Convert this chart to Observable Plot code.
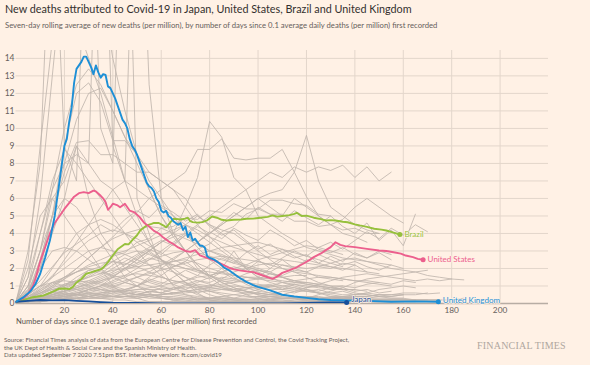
<!DOCTYPE html>
<html><head><meta charset="utf-8">
<script src="https://cdn.jsdelivr.net/npm/d3@7"></script>
<script src="https://cdn.jsdelivr.net/npm/@observablehq/plot@0.6"></script>
<style>
html,body{margin:0;padding:0;background:#fff1e5;}
body{width:590px;height:365px;position:relative;overflow:hidden;font-family:Lato,"Open Sans",sans-serif;}
#title{position:absolute;left:5px;top:4px;font-size:10.8px;line-height:1;color:#33302e;white-space:nowrap;}
#subtitle{position:absolute;left:5px;top:22px;font-size:7.7px;line-height:1;color:#66605c;white-space:nowrap;}
#chart{position:absolute;left:0;top:40px;}
#xtitle{position:absolute;left:16px;top:318px;font-size:7.6px;line-height:1;color:#5a5450;white-space:nowrap;}
#source{position:absolute;left:4px;top:336px;font-size:6.1px;line-height:7.6px;color:#66605c;white-space:nowrap;}
#ft{position:absolute;left:477px;top:341px;font-family:"Liberation Serif","DejaVu Serif",serif;font-size:10px;line-height:1;color:#b0a79f;letter-spacing:0.2px;white-space:nowrap;}
</style></head>
<body>
<div id="title">New deaths attributed to Covid-19 in Japan, United States, Brazil and United Kingdom</div>
<div id="subtitle">Seven-day rolling average of new deaths (per million), by number of days since 0.1 average daily deaths (per million) first recorded</div>
<div id="chart"></div>
<div id="xtitle">Number of days since 0.1 average daily deaths (per million) first recorded</div>
<div id="source">Source: Financial Times analysis of data from the European Centre for Disease Prevention and Control, the Covid Tracking Project,<br>the UK Dept of Health &amp; Social Care and the Spanish Ministry of Health.<br>Data updated September 7 2020 7.51pm BST. Interactive version: ft.com/covid19</div>
<div id="ft">FINANCIAL TIMES</div>
<script>
// ---- axis ticks ----
const xTicks = [20, 40, 60, 80, 100, 120, 140, 160, 180, 200];
const yTicks = [0, 1, 2, 3, 4, 5, 6, 7, 8, 9, 10, 11, 12, 13, 14];

// ---- highlighted countries ----
const highlightNames = ["Brazil", "United States", "United Kingdom", "Japan"];

const ukDays = [0,3,6,8,10,12,14,16,18,20,21,22,23,24,25,26,27,28,29,30,31,32,33,34,35,36,37,38,39,40,41,42,43,44,45,46,47,48,49,50,51,52,53,54,55,56,57,58,59,60,61,62,63,64,65,66,67,68,69,70,71,72,73,74,75,76,77,78,79,80,82,84,86,88,90,92,95,98,100,105,110,115,120,125,130,137,145,155,165,174.5];
const ukValues = [0.1,0.35,0.7,1.1,1.7,2.6,3.6,5.0,7.0,9.0,9.4,10.4,11.2,12.6,13.4,13.6,13.8,14.1,14.1,13.8,13.5,13.1,13.6,13.2,12.9,13.1,13.05,12.4,12.3,12.0,11.7,11.3,10.9,10.5,10.3,10.0,9.4,9.0,8.8,8.5,8.1,7.7,7.3,6.9,6.7,6.6,6.4,6.0,5.8,5.3,5.2,5.3,5.0,4.9,4.7,4.6,4.5,4.6,4.2,4.4,3.8,4.05,3.6,3.7,3.5,3.3,3.3,3.2,2.7,2.6,2.5,2.3,2.05,1.9,1.7,1.5,1.25,1.05,0.95,0.75,0.5,0.4,0.32,0.24,0.2,0.17,0.15,0.1,0.12,0.1];

const usDays = [0,3,5,7,8,10,12,14,16,18,20,22,24,26,28,30,32,33,35,36,37,38,39,40,42,43,45,46,47,49,51,53,55,57,59,61,63,65,67,68.5,70,72,74,76,78,80,82,85,88,90,93,96,98,100,102,104,106,108,110,113,116,119,121,123,126,128,130,132,134,136,140,145,150,153,156,159,161,164,166,168.2];
const usValues = [0.1,0.3,0.55,1.0,1.4,2.4,3.2,4.0,4.6,5.0,5.4,5.75,6.1,6.3,6.36,6.3,6.45,6.4,6.15,6.0,5.8,5.35,5.5,5.7,5.6,5.5,5.7,5.5,5.3,5.2,4.95,4.6,4.4,4.15,4.0,3.75,3.55,3.4,3.2,3.1,3.0,2.95,3.05,2.75,2.65,2.55,2.45,2.25,2.05,1.95,1.88,1.82,1.79,1.7,1.6,1.5,1.41,1.55,1.75,1.9,2.07,2.3,2.46,2.65,2.86,3.05,3.22,3.5,3.35,3.28,3.22,3.12,3.03,3.0,2.93,2.85,2.74,2.65,2.55,2.5];

const brazilDays = [0,3,5,7,9,11.5,14,16,17.6,20,22,23.5,25,27,29,31,33,35,36,38,40,42,44,45,46.5,48.6,50,51.3,53,54,56,57,59,61,62,63,65,67,68,70,71,72,73,75,77,79,81,83,85,87,90,93,95,98,101,104,106,108,110,113,115,116,118,120,123,126,128,130,132,135,137,140,142,145,148,151,153,156,158.6];
const brazilValues = [0.1,0.2,0.28,0.36,0.4,0.46,0.6,0.72,0.84,0.86,0.82,0.95,1.2,1.4,1.7,1.78,1.87,1.95,2.05,2.36,2.74,3.1,3.3,3.4,3.38,3.7,3.9,4.17,4.35,4.46,4.55,4.6,4.6,4.45,4.35,4.5,4.84,4.82,4.8,4.85,4.9,4.7,4.65,4.62,4.65,4.75,4.97,4.9,4.78,4.74,4.78,4.8,4.84,4.85,4.9,4.95,5.03,4.96,5.0,5.05,5.12,5.18,5.0,5.02,4.9,4.82,4.74,4.76,4.74,4.67,4.64,4.52,4.46,4.38,4.27,4.22,4.17,4.05,3.94];

const japanDays = [0,5,10,15,20,25,30,35,40,50,60,70,80,90,100,110,120,125,130,136.6];
const japanValues = [0.1,0.15,0.2,0.18,0.19,0.15,0.12,0.08,0.05,0.03,0.01,0.01,0.0,0.0,0.01,0.01,0.03,0.05,0.06,0.06];

// ---- other countries (grey), values every 5 days from day 0 ----
const gridDays = [0,5,10,15,20,25,30,35,40,45,50,55,60,65,70,75,80,85,90,95,100,105,110,115,120,125,130,135,140,145,150,155,160,165,170,175,180,185,190];
const g01 = [0.1,1.5,6,13,20,24,22,18,14,11,8.5,6.5,5,3.8,3,2.2,1.6,1.2,0.9,0.7,0.5,0.4,0.3,0.3,0.2,0.2,0.3,0.4,0.5,0.6,0.8,0.9,1.0,0.9];
const g02 = [0.1,2.5,9,15,17,16,14,12,9.5,7,5,3.5,2.5,1.8,1.2,0.6,0.2,0.1,0.1,0.1,0.1,0.1,0.1,0.2,0.3,0.5,0.7,0.9,1.2,1.4,1.5,1.6,1.7,1.8,1.9];
const g03 = [0.1,0.8,3,6.5,10,12.5,13.4,12.5,11,9.5,8.5,7.5,7,6.5,5.5,4.5,3.8,3.2,2.7,2,1.5,1.2,1,0.9,0.8,0.6,0.4,0.3,0.3,0.2,0.2,0.2,0.2,0.2,0.2,0.2,0.2,0.3];
const g04 = [0.1,0.5,2.5,5,9,12,12.6,11.5,9.3,9.3,8.5,7,6,5,4,3.2,2.5,2,1.5,1.1,0.8,0.6,0.5,0.4,0.4,0.3,0.3,0.3,0.3,0.3,0.4,0.4,0.5,0.5,0.6];
const g05 = [0.1,0.7,2,5,7.5,9.2,9.3,8.5,8.5,8,7.5,7.5,7,6.5,6,5,4.5,4.2,4,3.5,3,2.5,2,1.8,1.5,1.2,1,0.8,0.6,0.5,0.4,0.3,0.3,0.2,0.2,0.2];
const g06 = [0.1,1,4,7,8.8,8,7,6,5,4,3,2.2,1.6,1.1,0.8,0.5,0.3,0.2,0.1,0.1,0.1,0.1,0.1,0.1,0.1,0.1,0.1,0.2,0.2,0.2,0.2,0.2,0.2,0.2,0.2];
const g07 = [0.1,1.5,4,6.5,8,8.5,8,7,6.5,5.5,4.5,3.5,2.5,1.8,1.2,0.8,0.5,0.3,0.2,0.1,0.1,0.1,0.1,0.1,0.1,0.1,0.1,0.1,0.1,0.1,0.1,0.1,0.1];
const g08 = [0.1,3,8,25,9,7,28,10,8,30,6,4,2,1,0.5,0.3,0.2,0.1,0.1,0.1,0.1,0.1,0.1,0.1,0.1];
const g09 = [0.1,0.5,2,4,6,9,8,30,9,7,30,12.5,6,4,3,2,1.5,1,0.8,0.5,0.3,0.2,0.2,0.1,0.1,0.1,0.1];
const g10 = [0.1,1,3,5,6,5.5,4.5,3.5,2.5,1.5,1,0.6,0.3,0.2,0.1,0.1,0.1,0.1,0.1,0.1,0.1,0.1,0.1,0.1,0.1,0.1,0.1,0.1,0.1,0.1,0.1,0.1,0.1,0.1,0.1,0.1];
const g11 = [0.1,0.3,0.6,1,1.5,2,2.6,3.2,3.8,4.5,5.2,6,6.5,7,7.5,8.8,8.8,9.4,8.3,8.2,8.3,8.3,8.8,7.5,6.1,5,4.5,4.8,5.5,6,5.5,5,4.6];
const g12 = [0.1,0.2,0.3,0.5,0.7,0.9,1.2,1.5,1.8,2.2,2.6,3,3.5,4,5.5,7.2,10.4,9.5,7.2,6.5,5,4.5,4,3.6,3.2,3,2.8,2.6,2.5,2.4,2.3,2.2];
const g13 = [0.1,0.2,0.3,0.3,0.4,0.5,0.6,0.8,1,1.2,1.5,1.8,2.2,2.6,3,3.5,4,4.5,5,5.5,6,6.3,6.5,7.5,9.6,7,5.5,5,4.5,4.2,4];
const g14 = [0.1,0.2,0.3,0.4,0.5,0.6,0.8,1,1.3,1.6,2,2.5,3,3.5,4,4.5,5,5.5,6,6.5,7,7.5,7.2,7.8,7.5,7.8,7.6,7.9,7.2,7.8,7.0,7.5];
const g15 = [0.1,0.2,0.4,0.7,1.1,1.3,1.9,2.1,2.7,2.9,3.5,3.7,4.3,4.4,4.9,4.8,5.3,5.2,5.7,5.4,5.4,5.1,5.1,4.7,4.7,4.4,4.5,4.2,4.3,4.0,4];
const g16 = [0.1,0.1,0.2,0.2,0.3,0.3,0.4,0.5,0.6,0.8,1,1.3,1.6,2.1,2.4,3.1,3.4,4.1,4.4,5.1,5.4,5.9,5.9,5.7,5.6,5.1,5];
const g17 = [0.1,0.6,1,1.2,1.3,1.2,1,0.8,0.7,0.8,1,1.5,2,2.5,3,3.5,4,4.5,5,5.5,6,5.5,5,6,5.5,5,4.5,4,3.8,3.5];
const g18 = [0.1,0.1,0.1,0.2,0.3,0.5,0.8,1,1.5,2,2.5,3,3.5,4,4.5,5,4.5,4,3.5,3,2.5,2];
const g19 = [0.1,0.3,0.8,1.5,2.5,3.5,4.5,5.5,6.5,7,6.5,6,5.5,5,4.5,4,3.5,3,2.5,2,1.8,1.5,1.2,1,0.8,0.6,0.5,0.4,0.3,0.3];
const g20 = [0.1,0.5,1,2,3,4,4.5,4.8,4.5,4,3.5,3,2.5,2,1.5,1,0.7,0.5,0.3,0.2,0.2,0.2,0.1,0.1,0.1,0.1,0.1,0.1,0.1,0.1,0.1,0.1,0.1,0.1];
const g21 = [0.1,0.8,2,3,3.2,3,2.5,2,1.5,1.2,1,0.8,0.6,0.5,0.4,0.3,0.3,0.3,0.3,0.3,0.4,0.4,0.4,0.3,0.3,0.2,0.2,0.2,0.2,0.2,0.2,0.2,0.2,0.2];
const g22 = [0.1,2,5,6,5,4,3,2,1,0.5,0.3,0.1,0.1,0.1,0.1,0.1,0.1,0.1,0.1,0.1,0.1,0.2,0.3,0.3,0.2,0.2,0.2,0.2,0.2,0.2,0.2,0.2,0.2,0.2,0.2,0.2];
const g23 = [0.1,0.2,0.3,0.4,0.5,0.7,0.9,1.2,1.5,2,2.5,3,3.5,3.8,4,3.5,3,2.8,2.5,2.2,2,1.8,1.5,1.2,1.1,1,0.9,0.8,0.8];
const g24 = [0.1,0.3,0.6,0.8,0.9,0.8,0.6,0.5,0.4,0.3,0.3,0.4,0.5,0.6,0.7,0.8,0.9,1.4,1.8,2,2.2,2.3,2.2,2.1,2,2.1,2.3,2.5,2.6,2.4,2.2,2,1.9,1.8,1.6,1.5,1.4];
const g25 = [0.1,0.2,0.3,0.5,0.7,0.9,1.1,1.3,1.5,1.6,1.7,1.6,1.5,1.3,1.2,1,0.9,0.8,0.7,0.6,0.6,0.5,0.5,0.4,0.4,0.4,0.3,0.3,0.3,0.3,0.3,0.3,0.3];
const g26 = [0.1,0.3,0.5,0.8,1,1.2,1.3,1.2,1,0.8,0.6,0.5,0.4,0.3,0.3,0.2,0.2,0.2,0.2,0.2,0.3,0.4,0.5,0.7,0.9,1.1,1.3,1.5,1.6,1.7,1.6,1.5,1.4,1.3,1.4,1.3,1.4,1.35];
const g27 = [0.1,0.2,0.2,0.3,0.4,0.6,0.8,1,1.2,1.5,1.8,2,2.2,2.4,2.5,2.3,2,1.8,1.6,1.5,1.4,1.3,1.2,1.1,1,0.9,0.8,0.8];
const g28 = [0.1,0.1,0.2,0.2,0.3,0.3,0.4,0.5,0.4,0.6,0.5,0.7,0.6,0.9,0.8,1.1,1,1.3,1.2,1.5,1.4,1.7,1.6,1.9,1.8,2.1,2,2.3,2.2];
const g29 = [0.1,0.4,0.8,1.2,1.5,1.8,2,1.8,1.6,1.4,1.2,1,0.8,0.6,0.5,0.4,0.3,0.3,0.2,0.2,0.2,0.2,0.2,0.2,0.2,0.3,0.3,0.3,0.4,0.4,0.5,0.5,0.6,0.6,0.55,0.6];
const g30 = [0.1,0.2,0.4,0.6,0.9,1.2,1.6,2,2.4,2.8,3,2.8,2.5,2.2,2,1.8,1.6,1.4,1.3,1.2,1.1,1,0.9,0.8,0.7,0.6,0.6,0.5,0.5,0.5,0.4];
const g31 = [0.1,0.1,0.1,0.2,0.2,0.2,0.3,0.3,0.3,0.4,0.4,0.5,0.5,0.6,0.7,0.8,0.9,1,1,0.9,0.9,0.8,0.8,0.7,0.7,0.6];
const g32 = [0.1,0.3,0.6,0.9,1.1,1.3,1.2,1.1,0.9,0.7,0.5,0.4,0.3,0.2,0.2,0.1,0.1,0.1,0.1,0.1,0.1,0.1,0.1,0.1,0.1,0.1,0.1,0.1,0.1,0.1,0.1];
const g33 = [0.1,0.2,0.3,0.4,0.6,0.8,1,1.3,1.6,1.9,2.2,2.5,2.7,2.9,3,2.9,2.7,2.5,2.3,2.1,1.9,1.7,1.5,1.3,1.2,1.1,1,1];
const g34 = [0.1,0.1,0.2,0.3,0.4,0.5,0.6,0.6,0.7,0.7,0.8,0.8,0.8,0.9,0.9,0.9,1,1.1,1.2,1.3,1.4,1.5,1.5,1.6,1.6];
const g35 = [0.1,0.2,0.4,0.5,0.6,0.5,0.4,0.3,0.2,0.2,0.1,0.1,0.1,0.1,0.1,0.1,0.1,0.1,0.1,0.1,0.1,0.1,0.1,0.1,0.2,0.2,0.3,0.3,0.4,0.4,0.5,0.5,0.5];
const g36 = [0.1,0.5,1,1.5,2,2.5,3,3.2,3,2.8,2.5,2.2,2,1.8,1.5,1.3,1.1,0.9,0.8,0.7,0.6,0.5,0.5,0.4,0.4,0.3,0.3,0.3,0.3,0.3];
const g37 = [0.1,0.1,0.2,0.2,0.3,0.3,0.3,0.4,0.4,0.4,0.5,0.5,0.5,0.6,0.6,0.7,0.7,0.8,0.8,0.9,0.9,1,1,1.1];
const g38 = [0.1,0.2,0.4,0.7,1,1.3,1.5,1.7,1.9,2,2.1,2.2,2.3,2.4,2.6,2.8,3,3.2,3.3,3.4,3.5,3.3,3.1,2.9,2.7,2.5,2.3,2.1];
const g39 = [0.1,0.3,0.6,1,1.4,1.8,2.2,2.5,2.8,3,3.3,3.6,3.9,4.2,4.5,4.2,3.8,3.5,3.2,3,2.8,2.6,2.5,2.4,2.3,2.2,2.1,2,1.9,1.8,1.7];
const g40 = [0.1,1,3,6,7,9,6,4,3,2,1.5,1.2,1,0.8,1,1.2,1.5,2,3,2,1.5,2,2.5,2,1.8,1.5,1.4,1.3];
const g41 = [0.1,0.6,2.5,5,8,10.5,12,12.3,11,9.5,8,6.5,5,4,3,2.2,1.6,1.2,0.9,0.7,0.5,0.4,0.3,0.3,0.3,0.3,0.3];
const g42 = [0.1,0.2,0.3,0.5,0.7,0.9,1.1,1.4,1.7,2,2.3,2.6,2.4,2.2,2,1.9,1.8,1.7,1.6,1.5,1.5,1.4,1.3,1.2,1.2,1.1];
const g43 = [0.1,0.2,0.3,0.3,0.4,0.5,0.5,0.6,0.7,0.7,0.8,0.9,1,1.2,1.3,1.5,1.6,1.8,2,2.2,2.5,2.7,2.9,3.1,3.3,3.2,3,2.8];
const g44 = [0.1,0.3,0.4,0.6,0.7,0.8,0.9,0.8,0.7,0.6,0.5,0.5,0.4,0.4,0.3,0.3,0.3,0.4,0.5,0.6,0.8,1,1.2,1.3,1.4,1.5,1.5,1.4,1.3,1.2,1.1,1];
const g45 = [0.1,0.1,0.1,0.2,0.2,0.3,0.3,0.3,0.4,0.4,0.4,0.3,0.3,0.3,0.2,0.2,0.2,0.2,0.2,0.2,0.2,0.3,0.3,0.3,0.3,0.3,0.4,0.4,0.4,0.4];
const g46 = [0.1,0.4,0.9,1.6,2.3,3,3.6,4,4.2,4,3.7,3.3,2.9,2.5,2.2,1.9,1.6,1.3,1.1,0.9,0.7,0.6,0.5,0.4,0.4,0.3,0.3,0.3,0.3,0.2,0.2,0.2];
const g47 = [0.1,0.2,0.5,0.9,1.4,2,2.6,3.2,3.7,4,4.2,4.4,4.3,4,3.7,3.4,3,2.7,2.4,2.1,1.9,1.7,1.5,1.3,1.1,1,0.9,0.8,0.8,0.7];
const g48 = [0.1,0.2,0.3,0.4,0.5,0.6,0.7,0.9,1.1,1.3,1.5,1.7,1.9,2.1,2.3,2.5,2.6,2.7,2.6,2.5,2.4,2.2,2,1.8,1.7,1.6,1.5,1.4,1.3,1.3,1.2];
const g49 = [0.1,0.3,0.7,1.1,1.5,1.8,2.1,2.3,2.4,2.3,2.1,1.8,1.5,1.3,1.1,0.9,0.7,0.6,0.5,0.4,0.4,0.3,0.3,0.3,0.2,0.2,0.2,0.2,0.2,0.2,0.2,0.2,0.2,0.2];
const g50 = [0.1,0.2,0.3,0.5,0.8,1.2,1.5,1.9,2.4,2.2,2.7,3.1,2.8,3.4,3.9,3.5,4.1,3.7,4.3,3.9,3.6,4.2,3.8,3.3,3.6,3.1,2.9,3.2,2.8,2.6,2.9,2.5];
const g51 = [0.1,0.1,0.2,0.3,0.3,0.5,0.4,0.6,0.8,0.7,1,1.3,1.1,1.5,1.9,1.6,2.2,2.6,2.3,2.9,3.3,2.8,3.1,2.7,2.4,2.8,2.5,2.2,2.4,2.1,1.9,2.2,2];
const g52 = [0.1,0.3,0.2,0.4,0.6,0.5,0.8,0.7,0.9,1.2,1,1.4,1.2,1.1,1.3,1.6,1.4,1.8,2.1,1.9,2.4,2.2,2.6,3,2.7,3.2,3.5,3.1,3.6,4.1,3.7,4.3,3.9,4.5,4.1];
const g53 = [0.1,0.2,0.4,0.3,0.5,0.4,0.6,0.5,0.7,0.6,0.5,0.7,0.6,0.8,0.7,0.6,0.8,0.9,0.7,0.8,1,0.9,0.8,1.1,0.9,1,0.8,0.9,0.7,0.8,0.6,0.7];
const g54 = [0.1,0.6,1.3,2.1,2.9,3.4,3.9,4.5,4.1,4.8,5.3,4.9,5.6,5.2,4.7,5.1,4.4,3.9,4.2,3.6,3.1,3.4,2.9,2.6,2.8,2.3,2.1,1.9,2.2,1.8];
const g55 = [0.1,0.2,0.2,0.3,0.4,0.3,0.5,0.4,0.6,0.5,0.7,0.6,0.9,0.8,1.1,1.3,1.2,1.5,1.4,1.7,1.9,1.8,2.2,2,2.5,2.3,2.7,2.4,2.9,2.6,3,2.8];
const g56 = [0.1,0.4,0.7,1.2,1.0,1.5,1.9,1.7,2.2,2.6,2.3,2.9,2.5,2.1,2.4,1.9,1.6,1.8,1.4,1.2,1.0,1.1,0.8,0.9,0.7,0.8,0.6,0.7,0.5,0.6,0.5,0.4,0.5];
const g57 = [0.1,0.2,0.1,0.3,0.2,0.3,0.4,0.3,0.5,0.4,0.3,0.4,0.3,0.2,0.3,0.2,0.3,0.4,0.3,0.5,0.6,0.5,0.7,0.6,0.8,0.7,0.9,1,0.9,1.1,1.2,1.1,1.3,1.2];
const g58 = [0.1,0.2,0.3,0.5,0.7,1,1.3,1.6,2,2.4,2.8,3.2,3.6,3.3,3.9,4.4,4,4.6,5.2,4.8,5.5,5.1,4.7,5.3,4.9,4.5,5,4.4,4,4.6,3.6,4.2,3.3,5.1];
const greySeries = [g01,g02,g03,g04,g05,g06,g07,g08,g09,g10,g11,g12,g13,g14,g15,g16,g17,g18,g19,g20,g21,g22,g23,g24,g25,g26,g27,g28,g29,g30,g31,g32,g33,g34,g35,g36,g37,g38,g39,g40,g41,g42,g43,g44,g45,g46,g47,g48,g49,g50,g51,g52,g53,g54,g55,g56,g57,g58];

// ---- colours ----
const colors = {"Brazil": "#96c03c", "United States": "#ec5f8d", "United Kingdom": "#1d8fd6", "Japan": "#174f9a"};
const labelShift = {"Brazil": -0.5, "United States": -0.5, "United Kingdom": -1.5, "Japan": -3};

// ---- build tables ----
const greyRows = [];
greySeries.forEach((vals, i) => vals.forEach((v, j) => greyRows.push({name: "g" + i, day: gridDays[j], value: v})));

const mainData = {
  "United Kingdom": [ukDays, ukValues],
  "United States": [usDays, usValues],
  "Brazil": [brazilDays, brazilValues],
  "Japan": [japanDays, japanValues]
};
const mainRows = [];
const endRows = [];
for (const name of highlightNames) {
  const [ds, vs] = mainData[name];
  ds.forEach((d, i) => mainRows.push({name, day: d, value: vs[i]}));
  endRows.push({name, day: ds[ds.length - 1], value: vs[vs.length - 1]});
}
const drawOrder = ["Brazil", "United States", "Japan", "United Kingdom"];

const chart = Plot.plot({
  width: 590,
  height: 290,
  marginTop: 10,
  marginLeft: 15.5,
  marginRight: 42,
  marginBottom: 27,
  style: {background: "transparent", fontFamily: "Lato, 'Open Sans', sans-serif", fontSize: "8px", color: "#66605c", overflow: "visible"},
  x: {domain: [0, 220]},
  y: {domain: [0, 14.45]},
  marks: [
    Plot.gridX(xTicks, {stroke: "#e3d6cb", strokeOpacity: 1, strokeWidth: 1}),
    Plot.gridY(yTicks, {stroke: "#e3d6cb", strokeOpacity: 1, strokeWidth: 1}),
    Plot.axisY(yTicks, {tickSize: 0, tickPadding: 1.5, label: null, fill: "#66605c", fontSize: 8.5}),
    Plot.axisX(xTicks, {tickSize: 0, tickPadding: 3.5, label: null, fill: "#66605c", fontSize: 8.3}),
    Plot.line(greyRows, {x: "day", y: "value", z: "name", stroke: "#c0b6ad", strokeWidth: 0.85, clip: true}),
    Plot.ruleY([0], {stroke: "#b7ada4", strokeWidth: 1.3}),
    ...drawOrder.map(n => Plot.line(mainRows.filter(r => r.name === n), {x: "day", y: "value", stroke: colors[n], strokeWidth: 1.9, clip: true})),
    ...endRows.map(r => Plot.text([r], {x: "day", y: "value", text: "name", fill: colors[r.name], textAnchor: "start", dx: 4.5, dy: labelShift[r.name], fontSize: 8, stroke: "#fff1e5", strokeWidth: 1.5, paintOrder: "stroke"})),
    Plot.dot(endRows, {x: "day", y: "value", fill: d => colors[d.name], r: 2.5, stroke: "none"})
  ]
});
document.getElementById("chart").appendChild(chart);
</script>
</body></html>
